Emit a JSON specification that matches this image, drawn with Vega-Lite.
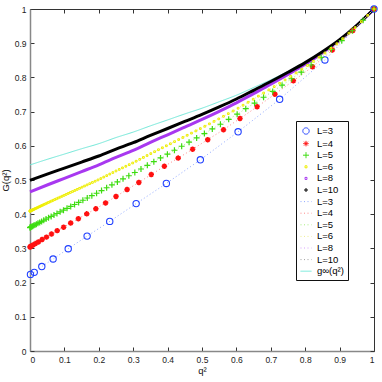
{
"$schema": "https://vega.github.io/schema/vega-lite/v6.json",
"width": 344, "height": 342,
"autosize": {"type": "none"},
"padding": {"left": 30, "top": 9, "right": 8, "bottom": 31},
"config": {
  "font": "Liberation Sans",
  "view": {"stroke": "#333", "strokeWidth": 1},
  "axis": {"grid": false, "tickSize": -4, "labelFontSize": 8.5, "labelColor": "#222", "tickColor": "#333", "domainColor": "#888", "domainWidth": 1.5, "titleFontSize": 9.5, "titleFontWeight": "normal", "titleColor": "#111"}
},
"datasets": {
  "d3": [{"x":0.00137,"y":0.224},{"x":0.01235,"y":0.230},{"x":0.0343,"y":0.247},{"x":0.0672,"y":0.269},{"x":0.1111,"y":0.299},{"x":0.166,"y":0.336},{"x":0.2318,"y":0.379},{"x":0.3086,"y":0.431},{"x":0.3964,"y":0.490},{"x":0.4952,"y":0.559},{"x":0.6049,"y":0.641},{"x":0.7257,"y":0.736},{"x":0.8573,"y":0.851},{"x":1,"y":1}],
  "d4": [{"x":0,"y":0.304},{"x":0.00098,"y":0.305},{"x":0.0039,"y":0.307},{"x":0.0088,"y":0.310},{"x":0.0156,"y":0.314},{"x":0.0244,"y":0.319},{"x":0.0352,"y":0.326},{"x":0.0479,"y":0.333},{"x":0.0625,"y":0.342},{"x":0.0791,"y":0.352},{"x":0.0977,"y":0.362},{"x":0.1182,"y":0.374},{"x":0.1406,"y":0.387},{"x":0.165,"y":0.401},{"x":0.1914,"y":0.416},{"x":0.2197,"y":0.433},{"x":0.25,"y":0.452},{"x":0.2822,"y":0.472},{"x":0.3164,"y":0.493},{"x":0.3525,"y":0.516},{"x":0.3906,"y":0.540},{"x":0.4307,"y":0.564},{"x":0.4727,"y":0.590},{"x":0.5166,"y":0.618},{"x":0.5625,"y":0.647},{"x":0.6104,"y":0.680},{"x":0.6602,"y":0.714},{"x":0.7119,"y":0.751},{"x":0.7656,"y":0.790},{"x":0.8213,"y":0.831},{"x":0.8789,"y":0.880},{"x":0.9385,"y":0.937},{"x":1,"y":1}],
  "d5": [{"x":0.000064,"y":0.3610},{"x":0.000576,"y":0.3613},{"x":0.0016,"y":0.3619},{"x":0.003136,"y":0.3627},{"x":0.005184,"y":0.3638},{"x":0.007744,"y":0.3651},{"x":0.010816,"y":0.3668},{"x":0.0144,"y":0.3687},{"x":0.018496,"y":0.3708},{"x":0.023104,"y":0.3733},{"x":0.028224,"y":0.3760},{"x":0.033856,"y":0.3790},{"x":0.04,"y":0.3823},{"x":0.046656,"y":0.3858},{"x":0.053824,"y":0.3896},{"x":0.061504,"y":0.3935},{"x":0.069696,"y":0.3977},{"x":0.0784,"y":0.4021},{"x":0.087616,"y":0.4069},{"x":0.097344,"y":0.4118},{"x":0.107584,"y":0.4171},{"x":0.118336,"y":0.4226},{"x":0.1296,"y":0.4284},{"x":0.141376,"y":0.4345},{"x":0.153664,"y":0.4408},{"x":0.166464,"y":0.4474},{"x":0.179776,"y":0.4542},{"x":0.1936,"y":0.4613},{"x":0.207936,"y":0.4690},{"x":0.222784,"y":0.4773},{"x":0.238144,"y":0.4858},{"x":0.254016,"y":0.4945},{"x":0.2704,"y":0.5033},{"x":0.287296,"y":0.5124},{"x":0.304704,"y":0.5219},{"x":0.322624,"y":0.5322},{"x":0.341056,"y":0.5429},{"x":0.36,"y":0.5536},{"x":0.379456,"y":0.5645},{"x":0.399424,"y":0.5756},{"x":0.419904,"y":0.5870},{"x":0.440896,"y":0.5987},{"x":0.4624,"y":0.6107},{"x":0.484416,"y":0.6231},{"x":0.506944,"y":0.6358},{"x":0.529984,"y":0.6493},{"x":0.553536,"y":0.6630},{"x":0.5776,"y":0.6775},{"x":0.602176,"y":0.6924},{"x":0.627264,"y":0.7086},{"x":0.652864,"y":0.7250},{"x":0.678976,"y":0.7419},{"x":0.7056,"y":0.7591},{"x":0.732736,"y":0.7772},{"x":0.760384,"y":0.7960},{"x":0.788544,"y":0.8154},{"x":0.817216,"y":0.8362},{"x":0.8464,"y":0.8582},{"x":0.876096,"y":0.8821},{"x":0.906304,"y":0.9075},{"x":0.937024,"y":0.9364},{"x":0.968256,"y":0.9674},{"x":1,"y":1}],
  "d6": [{"x":0,"y":0.4090},{"x":0.0000857,"y":0.4090},{"x":0.000343,"y":0.4092},{"x":0.000772,"y":0.4094},{"x":0.001372,"y":0.4097},{"x":0.002143,"y":0.4100},{"x":0.003086,"y":0.4105},{"x":0.004201,"y":0.4110},{"x":0.005487,"y":0.4116},{"x":0.006944,"y":0.4123},{"x":0.008573,"y":0.4131},{"x":0.010374,"y":0.4139},{"x":0.012346,"y":0.4149},{"x":0.014489,"y":0.4159},{"x":0.016804,"y":0.4170},{"x":0.01929,"y":0.4181},{"x":0.021948,"y":0.4194},{"x":0.024777,"y":0.4207},{"x":0.027778,"y":0.4222},{"x":0.03095,"y":0.4237},{"x":0.034294,"y":0.4253},{"x":0.037809,"y":0.4269},{"x":0.041495,"y":0.4287},{"x":0.045354,"y":0.4305},{"x":0.049383,"y":0.4324},{"x":0.053584,"y":0.4343},{"x":0.057956,"y":0.4363},{"x":0.0625,"y":0.4384},{"x":0.067215,"y":0.4406},{"x":0.072102,"y":0.4428},{"x":0.07716,"y":0.4451},{"x":0.08239,"y":0.4475},{"x":0.087791,"y":0.4499},{"x":0.093364,"y":0.4525},{"x":0.099108,"y":0.4551},{"x":0.105024,"y":0.4578},{"x":0.111111,"y":0.4606},{"x":0.11737,"y":0.4635},{"x":0.1238,"y":0.4664},{"x":0.130401,"y":0.4694},{"x":0.137174,"y":0.4725},{"x":0.144119,"y":0.4757},{"x":0.151235,"y":0.4790},{"x":0.158522,"y":0.4823},{"x":0.165981,"y":0.4857},{"x":0.173611,"y":0.4892},{"x":0.181413,"y":0.4928},{"x":0.189386,"y":0.4964},{"x":0.197531,"y":0.5002},{"x":0.205847,"y":0.5042},{"x":0.214335,"y":0.5085},{"x":0.222994,"y":0.5128},{"x":0.231824,"y":0.5173},{"x":0.240827,"y":0.5218},{"x":0.25,"y":0.5264},{"x":0.259345,"y":0.5309},{"x":0.268861,"y":0.5355},{"x":0.278549,"y":0.5401},{"x":0.288409,"y":0.5448},{"x":0.29844,"y":0.5497},{"x":0.308642,"y":0.5549},{"x":0.319016,"y":0.5604},{"x":0.329561,"y":0.5659},{"x":0.340278,"y":0.5715},{"x":0.351166,"y":0.5772},{"x":0.362226,"y":0.5828},{"x":0.373457,"y":0.5885},{"x":0.384859,"y":0.5942},{"x":0.396433,"y":0.6001},{"x":0.408179,"y":0.6060},{"x":0.420096,"y":0.6121},{"x":0.432185,"y":0.6182},{"x":0.444444,"y":0.6244},{"x":0.456876,"y":0.6307},{"x":0.469479,"y":0.6371},{"x":0.482253,"y":0.6436},{"x":0.495199,"y":0.6503},{"x":0.508316,"y":0.6571},{"x":0.521605,"y":0.6642},{"x":0.535065,"y":0.6714},{"x":0.548697,"y":0.6786},{"x":0.5625,"y":0.6862},{"x":0.576475,"y":0.6940},{"x":0.590621,"y":0.7018},{"x":0.604938,"y":0.7099},{"x":0.619427,"y":0.7186},{"x":0.634088,"y":0.7273},{"x":0.64892,"y":0.7362},{"x":0.663923,"y":0.7452},{"x":0.679098,"y":0.7543},{"x":0.694444,"y":0.7635},{"x":0.709962,"y":0.7730},{"x":0.725652,"y":0.7828},{"x":0.741512,"y":0.7926},{"x":0.757545,"y":0.8028},{"x":0.773748,"y":0.8132},{"x":0.790123,"y":0.8238},{"x":0.80667,"y":0.8349},{"x":0.823388,"y":0.8469},{"x":0.840278,"y":0.8589},{"x":0.857339,"y":0.8715},{"x":0.874571,"y":0.8849},{"x":0.891975,"y":0.8984},{"x":0.909551,"y":0.9133},{"x":0.927298,"y":0.9293},{"x":0.945216,"y":0.9456},{"x":0.963306,"y":0.9632},{"x":0.981568,"y":0.9815},{"x":1,"y":1}],
  "d8": [{"x":0,"y":0.465},{"x":0.05,"y":0.4854},{"x":0.1,"y":0.5049},{"x":0.15,"y":0.5245},{"x":0.2,"y":0.5442},{"x":0.25,"y":0.566},{"x":0.3,"y":0.5869},{"x":0.35,"y":0.61},{"x":0.4,"y":0.6322},{"x":0.45,"y":0.6546},{"x":0.5,"y":0.6771},{"x":0.55,"y":0.7008},{"x":0.6,"y":0.7256},{"x":0.65,"y":0.7527},{"x":0.7,"y":0.78},{"x":0.75,"y":0.8085},{"x":0.8,"y":0.8383},{"x":0.85,"y":0.8715},{"x":0.9,"y":0.9082},{"x":0.95,"y":0.9514},{"x":1,"y":1}],
  "d10": [{"x":0,"y":0.499},{"x":0.05,"y":0.5174},{"x":0.1,"y":0.5348},{"x":0.15,"y":0.5524},{"x":0.2,"y":0.5702},{"x":0.25,"y":0.5901},{"x":0.3,"y":0.6091},{"x":0.35,"y":0.6303},{"x":0.4,"y":0.6506},{"x":0.45,"y":0.6712},{"x":0.5,"y":0.6919},{"x":0.55,"y":0.7138},{"x":0.6,"y":0.7369},{"x":0.65,"y":0.7623},{"x":0.7,"y":0.788},{"x":0.75,"y":0.815},{"x":0.8,"y":0.8433},{"x":0.85,"y":0.875},{"x":0.9,"y":0.9103},{"x":0.95,"y":0.9524},{"x":1,"y":1}],
  "dg": [{"x":0,"y":0.544},{"x":0.05,"y":0.5604},{"x":0.1,"y":0.5758},{"x":0.15,"y":0.5914},{"x":0.2,"y":0.6062},{"x":0.25,"y":0.6241},{"x":0.3,"y":0.6401},{"x":0.35,"y":0.6583},{"x":0.4,"y":0.6756},{"x":0.45,"y":0.6932},{"x":0.5,"y":0.7099},{"x":0.55,"y":0.7288},{"x":0.6,"y":0.7479},{"x":0.65,"y":0.7703},{"x":0.7,"y":0.793},{"x":0.75,"y":0.818},{"x":0.8,"y":0.8453},{"x":0.85,"y":0.8765},{"x":0.9,"y":0.9113},{"x":0.95,"y":0.9529},{"x":1,"y":1}]
},
"resolve": {"axis": {"x": "independent", "y": "independent"}},
"layer": [
 {
  "encoding": {
    "x": {"field": "x", "type": "quantitative", "scale": {"domain": [0, 1], "nice": false}, "axis": {"values": [0,0.1,0.2,0.3,0.4,0.5,0.6,0.7,0.8,0.9,1], "format": "~g", "title": "q²", "labelPadding": 8, "titlePadding": 2}},
    "y": {"field": "y", "type": "quantitative", "scale": {"domain": [0, 1], "nice": false}, "axis": {"values": [0,0.1,0.2,0.3,0.4,0.5,0.6,0.7,0.8,0.9,1], "format": "~g", "title": "G(q²)", "labelPadding": 8, "titlePadding": 4}}
  },
  "layer": [
   {"data": {"name": "dg"}, "mark": {"type": "line", "strokeWidth": 1, "interpolate": "monotone"},
    "encoding": {
      "color": {"datum": "g", "type": "ordinal", "scale": {"type": "ordinal", "domain": ["p3","p4","p5","p6","p8","p10","l3","l4","l5","l6","l8","l10","g"], "range": ["#1f3fff","#ff1010","#3ddc10","#eeee00","#a838f0","#000000","#8fa8ff","#ff8a8a","#a8ee80","#eeee90","#d8a0ff","#a0a0a0","#70e8d8"]},
        "legend": {"orient": "none", "legendX": 266, "legendY": 112, "title": null, "labelExpr": "datum.label == 'g' ? 'g∞(q²)' : 'L=' + slice(datum.label, 1)", "strokeColor": "#111", "fillColor": "white", "padding": 4, "rowPadding": 0.6, "labelFontSize": 9.5, "labelOffset": 5, "symbolStrokeWidth": 1,
          "encode": {"symbols": {"update": {"size": {"signal": "indexof(['p6','p8','p10'], datum.value) >= 0 ? 4 : (datum.value == 'p3' ? 40 : (datum.value == 'p4' ? 30 : (datum.value == 'p5' ? 36 : 121)))"}}}}}},
      "strokeDash": {"datum": "g", "type": "ordinal", "scale": {"type": "ordinal", "domain": ["p3","p4","p5","p6","p8","p10","l3","l4","l5","l6","l8","l10","g"], "range": [[1,0],[1,0],[1,0],[1,0],[1,0],[1,0],[1,2.5],[1,2.5],[1,2.5],[1,2.5],[1,2.5],[1,2.5],[1,0]]}}
    }},
   {"data": {"name": "d8"}, "mark": {"type": "line", "strokeWidth": 3, "interpolate": "monotone"}, "encoding": {"color": {"datum": "p8", "type": "ordinal"}}},
   {"data": {"name": "d10"}, "mark": {"type": "line", "strokeWidth": 3, "interpolate": "monotone"}, "encoding": {"color": {"datum": "p10", "type": "ordinal"}}},
   {"data": {"name": "d3"}, "mark": {"type": "line", "strokeWidth": 1}, "encoding": {"color": {"datum": "l3", "type": "ordinal"}, "strokeDash": {"datum": "l3", "type": "ordinal"}}},
   {"data": {"name": "d4"}, "mark": {"type": "line", "strokeWidth": 1}, "encoding": {"color": {"datum": "l4", "type": "ordinal"}, "strokeDash": {"datum": "l4", "type": "ordinal"}}},
   {"data": {"name": "d5"}, "mark": {"type": "line", "strokeWidth": 1}, "encoding": {"color": {"datum": "l5", "type": "ordinal"}, "strokeDash": {"datum": "l5", "type": "ordinal"}}},
   {"data": {"name": "d6"}, "mark": {"type": "line", "strokeWidth": 1}, "encoding": {"color": {"datum": "l6", "type": "ordinal"}, "strokeDash": {"datum": "l6", "type": "ordinal"}}},
   {"data": {"name": "d3"}, "mark": {"type": "point", "filled": false, "strokeWidth": 1.1, "opacity": 1, "size": 40},
    "encoding": {"color": {"datum": "p3", "type": "ordinal"},
      "shape": {"datum": "p3", "type": "ordinal", "scale": {"type": "ordinal", "domain": ["p3","p4","p5","p6","p8","p10","l3","l4","l5","l6","l8","l10","g"], "range": ["circle","M-1,0L1,0M0,-1L0,1M-0.7,-0.7L0.7,0.7M-0.7,0.7L0.7,-0.7","M-1,0L1,0M0,-1L0,1","square","square","square","stroke","stroke","stroke","stroke","stroke","stroke","stroke"]}}}},
   {"data": {"name": "d4"}, "mark": {"type": "point", "filled": false, "strokeWidth": 1.6, "opacity": 1, "size": 30}, "encoding": {"color": {"datum": "p4", "type": "ordinal"}, "shape": {"datum": "p4", "type": "ordinal"}}},
   {"data": {"name": "d5"}, "mark": {"type": "point", "filled": false, "strokeWidth": 1.2, "opacity": 1, "size": 36}, "encoding": {"color": {"datum": "p5", "type": "ordinal"}, "shape": {"datum": "p5", "type": "ordinal"}}},
   {"data": {"name": "d6"}, "mark": {"type": "point", "filled": false, "strokeWidth": 1, "opacity": 1, "size": 3}, "encoding": {"color": {"datum": "p6", "type": "ordinal"}, "shape": {"datum": "p6", "type": "ordinal"}}},
   {"data": {"values": [{}]}, "mark": {"type": "text", "fontSize": 9, "color": "#111"}, "encoding": {"x": {"datum": 0.384}, "y": {"datum": 0.915}, "text": {"value": "T=0.5"}}}
  ]
 },
 {
  "data": {"name": "dg"}, "mark": {"type": "point", "opacity": 0},
  "encoding": {
    "x": {"field": "x", "type": "quantitative", "axis": {"orient": "top", "values": [0,0.1,0.2,0.3,0.4,0.5,0.6,0.7,0.8,0.9,1], "labels": false, "title": null, "domain": false}},
    "y": {"field": "y", "type": "quantitative", "axis": {"orient": "right", "values": [0,0.1,0.2,0.3,0.4,0.5,0.6,0.7,0.8,0.9,1], "labels": false, "title": null, "domain": false}}
  }
 }
]
}
